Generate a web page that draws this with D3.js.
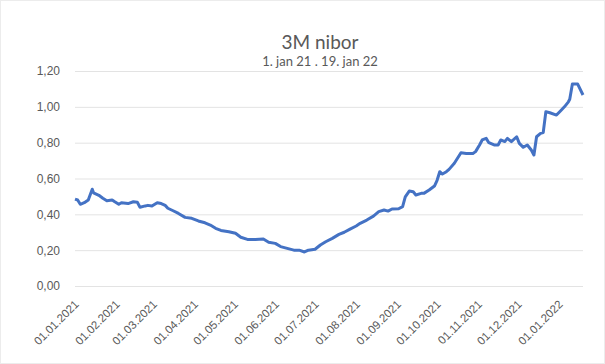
<!DOCTYPE html>
<html>
<head>
<meta charset="utf-8">
<script src="https://cdn.jsdelivr.net/npm/d3@7"></script>
<style>
  body { margin: 0; background: #fff; }
  svg { display: block; font-family: Lato, "Open Sans", sans-serif; }
</style>
</head>
<body>
<div id="chart"></div>
<script>
const dates = [
  "2021-01-01","2021-01-03","2021-01-05","2021-01-08","2021-01-11","2021-01-14","2021-01-15","2021-01-19",
  "2021-01-22","2021-01-25","2021-01-29","2021-01-31","2021-02-03","2021-02-05","2021-02-10","2021-02-14",
  "2021-02-17","2021-02-19","2021-02-23","2021-02-25","2021-02-28","2021-03-04","2021-03-07","2021-03-10",
  "2021-03-12","2021-03-16","2021-03-20","2021-03-25","2021-03-30","2021-04-04","2021-04-09","2021-04-13",
  "2021-04-17","2021-04-21","2021-04-27","2021-05-02","2021-05-06","2021-05-11","2021-05-17","2021-05-23",
  "2021-05-27","2021-06-01","2021-06-05","2021-06-10","2021-06-15","2021-06-19","2021-06-23","2021-06-26",
  "2021-07-01","2021-07-05","2021-07-09","2021-07-14","2021-07-19","2021-07-23","2021-07-27","2021-08-01",
  "2021-08-04","2021-08-09","2021-08-14","2021-08-18","2021-08-22","2021-08-25","2021-08-28","2021-09-02",
  "2021-09-05","2021-09-07","2021-09-10","2021-09-13","2021-09-15","2021-09-19","2021-09-21","2021-09-25",
  "2021-09-29","2021-10-01","2021-10-03","2021-10-05","2021-10-08","2021-10-10","2021-10-14","2021-10-19",
  "2021-10-23","2021-10-28","2021-10-30","2021-11-02","2021-11-04","2021-11-07","2021-11-09","2021-11-13",
  "2021-11-16","2021-11-18","2021-11-21","2021-11-23","2021-11-26","2021-11-30","2021-12-02","2021-12-05",
  "2021-12-08","2021-12-11","2021-12-13","2021-12-15","2021-12-18","2021-12-20","2021-12-22","2021-12-25",
  "2021-12-30","2022-01-02","2022-01-05","2022-01-08","2022-01-09","2022-01-11","2022-01-15","2022-01-19"
];
const rates = [
  0.485,0.48,0.456,0.465,0.48,0.54,0.52,0.506,
  0.49,0.476,0.48,0.47,0.456,0.465,0.46,0.47,
  0.467,0.44,0.447,0.45,0.446,0.465,0.46,0.45,
  0.434,0.42,0.405,0.383,0.378,0.363,0.353,0.34,
  0.322,0.31,0.303,0.294,0.272,0.26,0.26,0.262,
  0.244,0.238,0.22,0.21,0.20,0.20,0.19,0.20,
  0.205,0.229,0.247,0.266,0.288,0.30,0.316,0.335,
  0.35,0.368,0.39,0.415,0.424,0.418,0.43,0.431,
  0.443,0.498,0.53,0.526,0.508,0.517,0.517,0.536,
  0.558,0.59,0.638,0.625,0.638,0.651,0.685,0.744,
  0.74,0.74,0.75,0.787,0.815,0.824,0.80,0.787,
  0.787,0.815,0.806,0.824,0.806,0.833,0.796,0.774,
  0.787,0.759,0.731,0.833,0.852,0.856,0.973,0.967,
  0.954,0.977,1.00,1.028,1.042,1.127,1.127,1.066
];
const yTicks = [0, 0.2, 0.4, 0.6, 0.8, 1.0, 1.2];
const title = "3M nibor";
const subtitle = "1. jan 21 . 19. jan 22";

const parse = d3.timeParse("%Y-%m-%d");
const data = dates.map((d, i) => ({ date: parse(d), rate: rates[i] }));

const width = 605, height = 364;
const plot = { left: 75, right: 583, top: 71, bottom: 286 };

const svg = d3.select("#chart")
  .append("svg")
  .attr("width", width)
  .attr("height", height);

svg.append("rect")
  .attr("x", 0.5).attr("y", 0.5)
  .attr("width", width - 1).attr("height", height - 1)
  .attr("fill", "#fff")
  .attr("stroke", "#ececec");

const xScale = d3.scaleTime()
  .domain([parse("2021-01-01"), parse("2022-01-19")])
  .range([plot.left, plot.right]);

const yScale = d3.scaleLinear()
  .domain([0, 1.2])
  .range([plot.bottom, plot.top]);

// gridlines + y labels
const yAxis = d3.axisLeft(yScale)
  .tickValues(yTicks)
  .tickSize(-(plot.right - plot.left))
  .tickPadding(15)
  .tickFormat(d => d3.format(".2f")(d).replace(".", ","));

svg.append("g")
  .attr("class", "y-axis")
  .attr("transform", `translate(${plot.left},0)`)
  .call(yAxis)
  .call(g => g.select(".domain").remove())
  .call(g => g.selectAll("line").attr("stroke", "#e3e3e3").attr("stroke-width", 1))
  .call(g => g.selectAll("text")
    .attr("fill", "#595959")
    .style("font-size", "12px"));

// x axis labels only
const xAxis = d3.axisBottom(xScale)
  .ticks(d3.timeMonth.every(1))
  .tickSize(0)
  .tickFormat(d3.timeFormat("%d.%m.%Y"));

svg.append("g")
  .attr("class", "x-axis")
  .attr("transform", `translate(0,${plot.bottom})`)
  .call(xAxis)
  .call(g => g.select(".domain").remove())
  .call(g => g.selectAll("text")
    .attr("fill", "#595959")
    .style("font-size", "11.5px")
    .attr("text-anchor", "end")
    .attr("dy", "0")
    .attr("y", 0)
    .attr("transform", "translate(4,19) rotate(-45)"));

const line = d3.line()
  .x(d => xScale(d.date))
  .y(d => yScale(d.rate));

svg.append("path")
  .datum(data)
  .attr("fill", "none")
  .attr("stroke", "#4472c4")
  .attr("stroke-width", 3)
  .attr("stroke-linejoin", "round")
  .attr("d", line);

svg.append("text")
  .attr("x", 320).attr("y", 49)
  .attr("text-anchor", "middle")
  .attr("fill", "#595959")
  .style("font-size", "19px")
  .text(title);

svg.append("text")
  .attr("x", 320).attr("y", 66)
  .attr("text-anchor", "middle")
  .attr("fill", "#595959")
  .style("font-size", "13px")
  .text(subtitle);
</script>
</body>
</html>
